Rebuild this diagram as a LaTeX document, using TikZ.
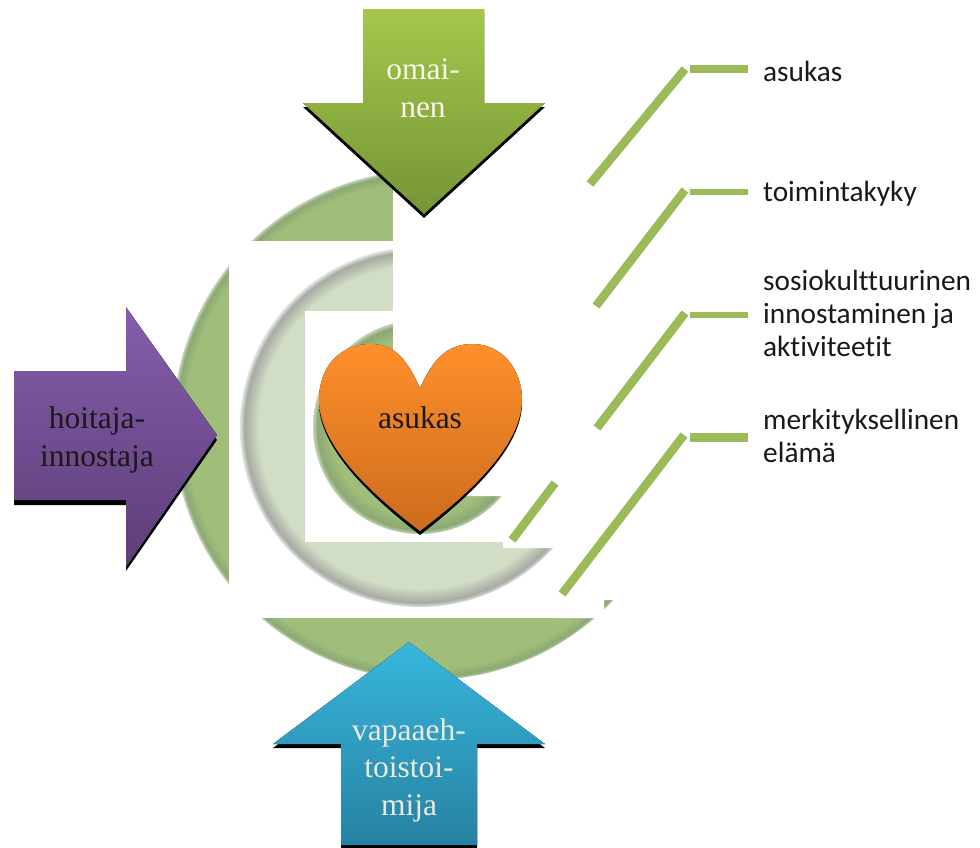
\documentclass[tikz,border=0pt]{standalone}
\usepackage{fontspec}
\setmainfont{Liberation Serif}
\newfontfamily\labelfont[Ligatures=NoCommon]{Carlito}
\definecolor{diskgreen}{HTML}{A0BE7A}
\definecolor{diskedge}{HTML}{8BA873}
\definecolor{diskpale}{HTML}{D2DDC6}
\definecolor{diskgrey}{HTML}{A6ABA2}
\definecolor{leadgreen}{HTML}{9BBB59}
\pgfdeclareradialshading{outerdisk}{\pgfpoint{0bp}{0bp}}{color(0bp)=(diskgreen); color(23.8bp)=(diskgreen); color(24.7bp)=(diskedge); color(25bp)=(diskedge!50!white); color(50bp)=(white)}
\pgfdeclareradialshading{middledisk}{\pgfpoint{0bp}{0bp}}{color(0bp)=(diskpale); color(22.4bp)=(diskpale); color(24.4bp)=(diskgrey); color(25bp)=(diskgrey!30!white); color(50bp)=(white)}
\pgfdeclareradialshading{innerdisk}{\pgfpoint{0bp}{0bp}}{color(0bp)=(diskgreen); color(21bp)=(diskgreen); color(24bp)=(diskedge); color(25bp)=(diskedge!50!white); color(50bp)=(white)}
\begin{document}
\begin{tikzpicture}[x=1pt,y=-1pt,
        disknode/.style={circle, inner sep=0pt},
        mask/.style={fill=white},
        blackshadow/.style={fill=black},
        greenarrow/.style={top color={rgb,255:red,163;green,200;blue,75}, bottom color={rgb,255:red,118;green,148;blue,54}},
        purplearrow/.style={top color={rgb,255:red,133;green,94;blue,172}, bottom color={rgb,255:red,92;green,62;blue,120}},
        bluearrow/.style={top color={rgb,255:red,56;green,182;blue,220}, bottom color={rgb,255:red,38;green,130;blue,162}},
        orangeheart/.style={top color={rgb,255:red,255;green,143;blue,42}, bottom color={rgb,255:red,204;green,108;blue,30}},
        arrowtext/.style={font=\fontsize{31.5}{37.5}\selectfont, align=center, inner sep=0pt, anchor=base},
        leader/.style={draw=leadgreen, line width=8.5pt},
        tick/.style={draw=leadgreen},
        labeltext/.style={font=\labelfont\fontsize{29.3}{33}\selectfont, align=left, inner sep=0pt, anchor=base west, text=black!90},
        ]
        \useasboundingbox (0,0) rectangle (980,847);

        % Disks with the white panels between them
        \node[disknode, minimum size=510pt, shading=outerdisk] (outer) at (428,425) {};
        \fill[mask] (229,241) rectangle (604,618);
        \node[disknode, minimum size=360pt, shading=middledisk] (middle) at (420,427) {};
        \fill[mask] (305,311) rectangle (503,542);
        \node[disknode, minimum size=214pt, shading=innerdisk] (inner) at (420,427) {};
        \fill[mask] (393,100) -- (980,100) -- (980,600) -- (604,600) -- (604,618) -- (555,618)
            -- (555,548) -- (503,548) -- (503,496) -- (393,496) -- cycle;

        % Arrows
        \fill[blackshadow] (363,13) -- (484,13) -- (484,107) -- (545,107) -- (424,218) -- (303,107) -- (363,107) -- cycle;
        \fill[greenarrow] (363,9) -- (484,9) -- (484,103) -- (545,103) -- (424,214) -- (303,103) -- (363,103) -- cycle;
        \fill[blackshadow] (14,376) -- (126,376) -- (126,312) -- (217,440) -- (126,571) -- (126,505) -- (14,505) -- cycle;
        \fill[purplearrow] (14,371) -- (126,371) -- (126,307) -- (217,435) -- (126,567) -- (126,500) -- (14,500) -- cycle;
        \fill[blackshadow] (409,646) -- (545,748) -- (477,748) -- (477,849) -- (341,849) -- (341,748) -- (273,748) -- cycle;
        \fill[bluearrow] (409,642) -- (545,744) -- (477,744) -- (477,845) -- (341,845) -- (341,744) -- (273,744) -- cycle;

        % Heart
        \fill[blackshadow] (420,391) .. controls (405,358) and (392,347) .. (370,347)
            .. controls (340,347) and (319,370) .. (319,403)
            .. controls (319,450) and (375,500) .. (420,535)
            .. controls (465,500) and (522,450) .. (522,403)
            .. controls (522,370) and (500,347) .. (473,347)
            .. controls (450,347) and (435,358) .. (420,391) -- cycle;
        \fill[orangeheart] (420,388) .. controls (405,355) and (392,344) .. (370,344)
            .. controls (340,344) and (319,367) .. (319,400)
            .. controls (319,447) and (375,497) .. (420,531)
            .. controls (465,497) and (522,447) .. (522,400)
            .. controls (522,367) and (500,344) .. (473,344)
            .. controls (450,344) and (435,355) .. (420,388) -- cycle;

        % Arrow texts
        \node[arrowtext, text={rgb,255:red,248;green,245;blue,234}] (omainen) at (423,117) {omai-\\nen};
        \node[arrowtext, text=black!90] (hoitaja) at (97,466) {hoitaja-\\innostaja};
        \node[arrowtext, text={rgb,255:red,236;green,232;blue,220}] (vapaaeh) at (409,815) {vapaaeh-\\toistoi-\\mija};
        \node[arrowtext, text=black!90] (heartlabel) at (420,428) {asukas};

        % Labels
        \node[labeltext] (asukas) at (763,81) {asukas};
        \node[labeltext] (toiminta) at (763,201) {toimintakyky};
        \node[labeltext] (sosio) at (763,356) {sosiokulttuurinen\\innostaminen ja\\aktiviteetit};
        \node[labeltext] (merkitys) at (763,462) {merkityksellinen\\elämä};

        % Leader lines
        \coordinate (a1) at (590,184);
        \coordinate (a2) at (685,69);
        \coordinate (b1) at (596,306);
        \coordinate (b2) at (685,190);
        \coordinate (c1) at (597,428);
        \coordinate (c2) at (685,313);
        \coordinate (c3) at (512,540);
        \coordinate (c4) at (555,483);
        \coordinate (d1) at (562,594);
        \coordinate (d2) at (684,435);
        \draw[leader] (a1) -- (a2);
        \draw[leader] (b1) -- (b2);
        \draw[leader] (c1) -- (c2);
        \draw[leader] (c3) -- (c4);
        \draw[leader] (d1) -- (d2);
        \draw[tick, line width=8pt] (690,69) -- (748,69);
        \draw[tick, line width=6pt] (690,192) -- (748,192);
        \draw[tick, line width=6pt] (690,315) -- (748,315);
        \draw[tick, line width=9pt] (690,437) -- (748,437);

    \end{tikzpicture}
\end{document}
